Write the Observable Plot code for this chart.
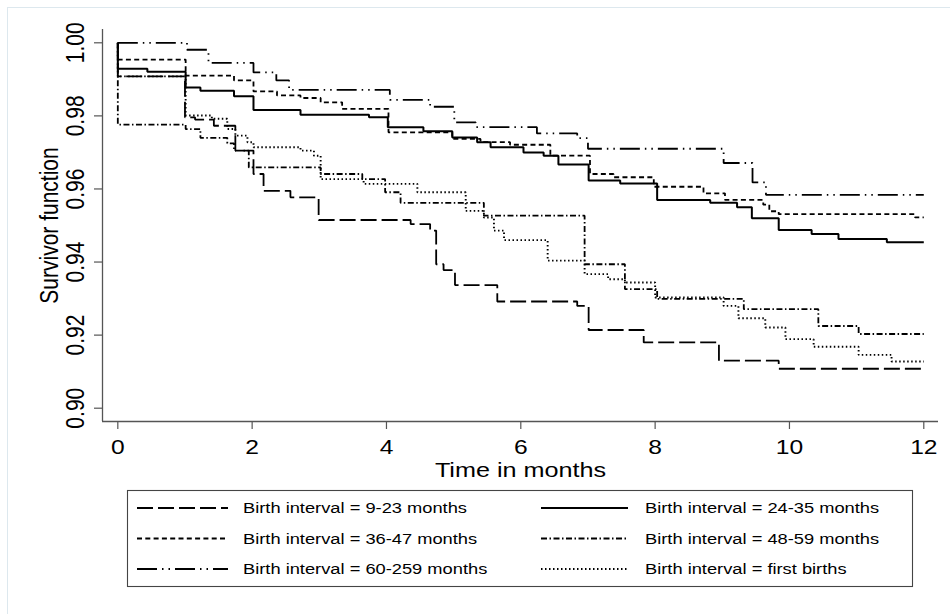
<!DOCTYPE html>
<html><head><meta charset="utf-8">
<script src="https://cdn.jsdelivr.net/npm/d3@7"></script>
<script src="https://cdn.jsdelivr.net/npm/@observablehq/plot@0.6"></script>
<style>
body{margin:0;background:#fff;}
#wrap{position:relative;width:950px;height:614px;overflow:hidden;font-family:"Liberation Sans",Arial,sans-serif;background:#fff;}
#frame{position:absolute;left:7px;top:7px;width:960px;height:640px;border-left:1px solid #dde8ee;border-top:1px solid #dde8ee;}
#chart{position:absolute;left:0;top:0;}
#legend{position:absolute;left:0;top:484px;}
</style></head><body>
<div id="wrap"><div id="frame"></div><div id="chart"></div><svg id="legend" width="950" height="130"></svg></div>
<script>
// ---- data (Kaplan-Meier step points: time in months, survivor function) ----
const t_9_23 = [0, 0, 1.00, 1.15, 1.43, 1.75, 2.02, 2.17, 2.57, 2.99, 4.36, 4.65, 4.74, 4.85, 5.02, 5.65, 6.84, 7.01, 7.83, 8.95, 9.84, 12.0];
const s_9_23 = [1.0, 0.9908, 0.9796, 0.9790, 0.9773, 0.9705, 0.9641, 0.9595, 0.9577, 0.9515, 0.9504, 0.9486, 0.9394, 0.9378, 0.9337, 0.9292, 0.9280, 0.9214, 0.9180, 0.9130, 0.9108, 0.9108];

const t_24_35 = [0, 0, 0.44, 1.01, 1.23, 1.73, 2.02, 2.72, 3.74, 4.02, 4.55, 4.98, 5.35, 5.55, 6.04, 6.34, 6.56, 7.01, 7.48, 8.03, 8.82, 9.22, 9.44, 9.84, 10.33, 10.73, 11.45, 12.0];
const s_24_35 = [1.0, 0.9929, 0.9921, 0.9878, 0.9869, 0.9854, 0.9816, 0.9803, 0.9796, 0.9769, 0.9758, 0.9741, 0.9728, 0.9714, 0.9700, 0.9691, 0.9667, 0.9623, 0.9615, 0.9570, 0.9562, 0.9550, 0.9520, 0.9488, 0.9477, 0.9463, 0.9454, 0.9454];

const t_36_47 = [0, 0, 1.01, 1.73, 2.02, 2.37, 2.72, 3.02, 3.34, 4.03, 4.98, 5.40, 5.84, 6.44, 7.03, 7.38, 7.98, 8.72, 9.04, 9.61, 9.70, 9.84, 11.87, 12.0];
const s_36_47 = [1.0, 0.9954, 0.9910, 0.9897, 0.9867, 0.9856, 0.9849, 0.9837, 0.9819, 0.9755, 0.9737, 0.9728, 0.9721, 0.9691, 0.9641, 0.9632, 0.9606, 0.9588, 0.9570, 0.9557, 0.9539, 0.9531, 0.9522, 0.9522];

const t_48_59 = [0, 0, 1.01, 1.23, 1.63, 1.73, 1.95, 3.02, 3.64, 3.98, 4.21, 5.45, 6.95, 7.55, 8.03, 9.32, 10.43, 11.03, 12.0];
const s_48_59 = [1.0, 0.9776, 0.9764, 0.9740, 0.9725, 0.9705, 0.9659, 0.9641, 0.9627, 0.9591, 0.9562, 0.9527, 0.9394, 0.9326, 0.9299, 0.9271, 0.9225, 0.9203, 0.9203];

const t_60_259 = [0, 1.03, 1.35, 2.02, 2.36, 2.55, 4.05, 4.65, 5.01, 5.33, 6.24, 6.84, 7.00, 9.02, 9.45, 9.65, 12.0];
const s_60_259 = [1.0, 0.9981, 0.9945, 0.9919, 0.9897, 0.9871, 0.9844, 0.9825, 0.9782, 0.9769, 0.9752, 0.9739, 0.9710, 0.9671, 0.9618, 0.9584, 0.9584];

const t_first = [0, 0, 1.01, 1.40, 1.63, 1.75, 1.93, 2.02, 2.72, 2.92, 3.02, 3.66, 4.46, 5.18, 5.45, 5.60, 5.75, 6.40, 6.95, 7.30, 7.55, 8.00, 9.02, 9.24, 9.64, 9.94, 10.36, 11.03, 11.52, 12.0];
const s_first = [1.0, 0.9908, 0.9801, 0.9792, 0.9764, 0.9746, 0.9728, 0.9714, 0.9705, 0.9691, 0.9627, 0.9614, 0.9591, 0.9540, 0.9522, 0.9486, 0.9460, 0.9404, 0.9367, 0.9353, 0.9344, 0.9303, 0.9280, 0.9246, 0.9221, 0.9189, 0.9168, 0.9146, 0.9128, 0.9128];

const seriesNames = ["Birth interval = 9-23 months", "Birth interval = 24-35 months", "Birth interval = 36-47 months",
                     "Birth interval = 48-59 months", "Birth interval = 60-259 months", "Birth interval = first births"];
const xTicks = [0, 2, 4, 6, 8, 10, 12];
const yTicks = [0.90, 0.92, 0.94, 0.96, 0.98, 1.00];
const xTitle = "Time in months";
const yTitle = "Survivor function";

// ---- styles ----
const lineStyles = [
  {dash: "16,5", width: 1.8},
  {dash: null, width: 2},
  {dash: "5,3.3", width: 1.8},
  {dash: "6,2.5,1.5,2.5", width: 1.8},
  {dash: "20,5,1.5,5,1.5,5", width: 1.8},
  {dash: "1.5,2.5", width: 1.9}
];
const seriesT = [t_9_23, t_24_35, t_36_47, t_48_59, t_60_259, t_first];
const seriesS = [s_9_23, s_24_35, s_36_47, s_48_59, s_60_259, s_first];
const rows = seriesNames.flatMap((name, k) => seriesT[k].map((t, i) => ({name, t, s: seriesS[k][i]})));

const xDomain = [-0.228, 12.219];
const yDomain = [0.89636, 1.00364];
const FONT = "'Liberation Sans', Arial, Helvetica, sans-serif";
const SX = 1.2;

const plot = Plot.plot({
  width: 950, height: 484,
  marginLeft: 102, marginRight: 12, marginTop: 29, marginBottom: 63,
  x: {domain: xDomain, axis: null},
  y: {domain: yDomain, axis: null},
  style: {fontFamily: FONT, background: "transparent", color: "#000", overflow: "visible"},
  marks: [
    Plot.ruleX([xDomain[0]], {stroke: "#555", strokeWidth: 1.3}),
    Plot.ruleY([yDomain[0]], {stroke: "#555", strokeWidth: 1.3}),
    Plot.axisX(xTicks, {tickSize: 8, fill: "none", stroke: "#555", strokeWidth: 1.2, label: null}),
    Plot.axisY(yTicks, {tickSize: 8, fill: "none", stroke: "#555", strokeWidth: 1.2, label: null}),
    Plot.text(xTicks, {x: d => d, y: yDomain[0], text: d => String(d), dy: 25.5, fontSize: 20.5, lineAnchor: "middle", textAnchor: "middle", fill: "#000"}),
    Plot.text(yTicks, {x: xDomain[0], y: d => d, text: d => d.toFixed(2), dx: -27, rotate: -90, fontSize: 21, lineAnchor: "middle", textAnchor: "middle", fill: "#000"}),
    Plot.text([xTitle], {frameAnchor: "bottom", text: d => d, dy: 49, fontSize: 21, lineAnchor: "middle", textAnchor: "middle", fill: "#000"}),
    Plot.text([yTitle], {frameAnchor: "left", text: d => d, dx: -53, rotate: -90, fontSize: 21, lineAnchor: "middle", textAnchor: "middle", fill: "#000"}),
    ...seriesNames.map((name, k) => Plot.line(rows.filter(r => r.name === name), {
      x: "t", y: "s", curve: "step-after", stroke: "#000",
      strokeWidth: lineStyles[k].width,
      strokeDasharray: lineStyles[k].dash || undefined,
      strokeLinecap: "butt", strokeLinejoin: "miter"
    }))
  ]
});

function stretch(el, sx) {
  const tr = el.getAttribute("transform") || "";
  const m = tr.match(/^\s*translate\(\s*([-\d.e]+)[\s,]+([-\d.e]+)\s*\)(.*)$/);
  if (m) {
    el.setAttribute("transform", `translate(${m[1]},${m[2]}) scale(${sx},1)${m[3]}`);
  } else if (!tr) {
    const x = parseFloat(el.getAttribute("x")) || 0;
    const y = parseFloat(el.getAttribute("y")) || 0;
    el.setAttribute("transform", `translate(${x},${y}) scale(${sx},1) translate(${-x},${-y})`);
  }
}
plot.querySelectorAll("text").forEach(el => stretch(el, SX));
document.getElementById("chart").appendChild(plot);

// ---- legend ----
const lg = d3.select("#legend");
lg.append("rect").attr("x", 127.5).attr("y", 6.5).attr("width", 785).attr("height", 96)
  .attr("fill", "#fff").attr("stroke", "#444").attr("stroke-width", 1.1);
const rowY = [24, 54.5, 85];
const sampleX = [[137, 228], [541, 628]];
const textX = [243, 645];
seriesNames.forEach((name, k) => {
  const col = k % 2, row = Math.floor(k / 2);
  const y = rowY[row];
  const ln = lg.append("line").attr("x1", sampleX[col][0]).attr("x2", sampleX[col][1])
    .attr("y1", y).attr("y2", y).attr("stroke", "#000")
    .attr("stroke-width", lineStyles[k].width).attr("stroke-linecap", "butt");
  if (lineStyles[k].dash) ln.attr("stroke-dasharray", lineStyles[k].dash);
  lg.append("text").attr("transform", `translate(${textX[col]},${y}) scale(1.18,1)`)
    .attr("dy", "0.35em").attr("font-family", FONT).attr("font-size", 15.5).attr("fill", "#000")
    .text(name);
});
</script>
</body></html>
